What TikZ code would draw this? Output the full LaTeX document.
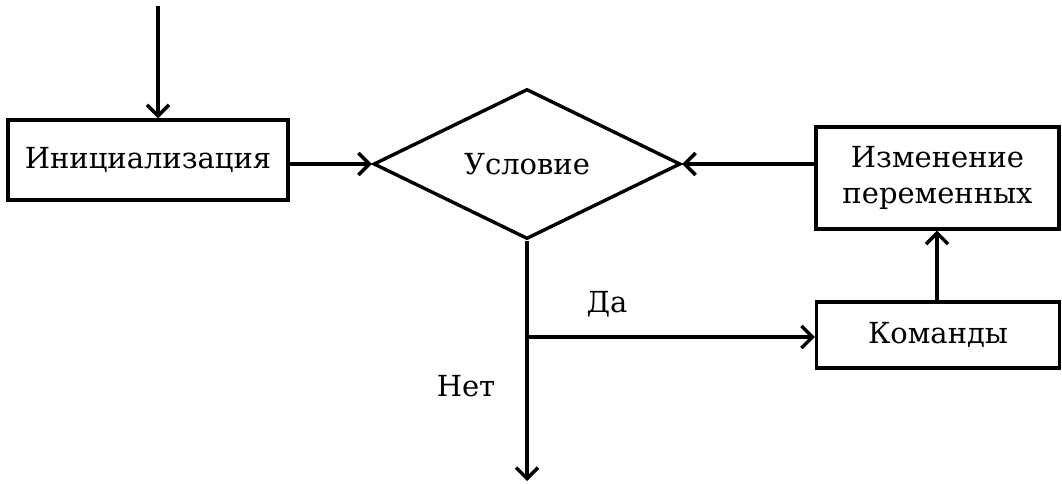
\documentclass[tikz,border=0pt]{standalone}
\usepackage{fontspec}
\setmainfont{DejaVu Serif}
\usetikzlibrary{arrows.meta,shapes.geometric}
\tikzset{
  lw/.style={line width=3.4pt},
  blockbox/.style={draw,lw,rectangle,inner sep=0pt,font=\fontsize{29}{36}\selectfont,align=center},
  condbox/.style={draw,lw,diamond,aspect=2,inner sep=0pt,minimum width=307pt,minimum height=150pt,font=\fontsize{29}{36}\selectfont},
  lbl/.style={font=\fontsize{29}{36}\selectfont,inner sep=0pt},
  conn/.style={lw,-{Straight Barb[length=11pt,width=22pt]}},
  plain/.style={lw}
}
\begin{document}
\begin{tikzpicture}[x=1pt,y=-1pt]
\useasboundingbox (0,0) rectangle (1062,484);
\node[blockbox,minimum width=280pt,minimum height=80pt] (init) at (148,160) {Инициализация};
\node[condbox] (cond) at (527,164) {Условие};
\node[blockbox,minimum width=243pt,minimum height=102pt] (change) at (937.5,178) {Изменение\\переменных};
\node[blockbox,minimum width=243pt,minimum height=66pt] (cmd) at (938,335) {Команды};
\node[lbl] (yes) at (607,304) {Да};
\node[lbl] (no) at (466,386) {Нет};
\coordinate (start) at (158,6);
\coordinate (branch) at (527,337);
\coordinate (exit) at (527,481);
\draw[conn] (start) -- (start |- init.north);
\draw[conn] (init.east |- cond.west) -- (cond.west);
\draw[conn] (change.west |- cond.east) -- (cond.east);
\draw[plain] (cond.south) -- (branch);
\draw[conn] (branch) -- (exit);
\draw[conn] (branch) -- (branch -| cmd.west);
\draw[conn] (cmd.north -| 937,0) -- (change.south -| 937,0);
\end{tikzpicture}
\end{document}
